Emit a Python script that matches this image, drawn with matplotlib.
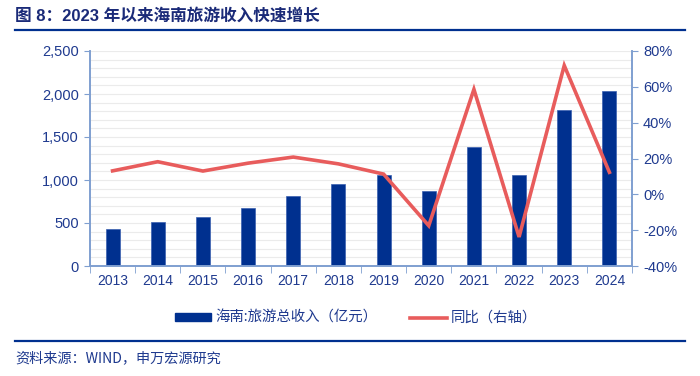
import matplotlib
matplotlib.use("Agg")
import matplotlib.pyplot as plt
from matplotlib.ticker import FuncFormatter, MultipleLocator
from matplotlib.patches import Rectangle
from matplotlib.lines import Line2D

plt.rcParams['font.family'] = ['Liberation Sans', 'Noto Sans CJK SC', 'DejaVu Sans']

years = ['2013', '2014', '2015', '2016', '2017', '2018', '2019', '2020', '2021', '2022', '2023', '2024']
revenue = [428.6, 506.5, 572.5, 672.1, 812.0, 950.2, 1057.8, 872.9, 1384.3, 1054.8, 1813.1, 2036.0]
yoy = [13.1, 18.2, 13.0, 17.4, 20.8, 17.0, 11.3, -17.5, 58.6, -23.8, 71.9, 12.3]

bar_label = '海南:旅游总收入（亿元）'
line_label = '同比（右轴）'
title = '图 8：2023 年以来海南旅游收入快速增长'
source = '资料来源：WIND，申万宏源研究'

bar_color = '#00308f'
line_color = '#e85c5c'
axis_color = '#7f9fd0'
text_color = '#1f3a8f'
title_color = '#1a2a78'

cjk = ['Noto Sans CJK SC', 'DejaVu Sans']
mixed = ['Liberation Sans', 'Noto Sans CJK SC', 'DejaVu Sans']

fig = plt.figure(figsize=(7.0, 3.76), dpi=100)
ax = fig.add_axes([90/700, 1-266/376, (632-90)/700, (266-51)/376])
ax2 = ax.twinx()

x = list(range(len(years)))
ax.set_axisbelow(True)
for v in range(100, 2600, 100):
    ax.axhline(v, color='#ebebeb', lw=0.8, zorder=0)
ax.bar(x, revenue, width=0.31, color=bar_color, edgecolor='#3a5fb0', linewidth=0.5, zorder=2)
ax.set_xlim(-0.5, len(years) - 0.5)
ax.set_ylim(0, 2500)
ax.yaxis.set_major_locator(MultipleLocator(500))
ax.yaxis.set_major_formatter(FuncFormatter(lambda v, p: f'{int(v):,}'))

ax2.plot(x, yoy, color=line_color, lw=2.6, zorder=3, solid_joinstyle='miter')
ax2.set_ylim(-40, 80)
ax2.yaxis.set_major_locator(MultipleLocator(20))
ax2.yaxis.set_major_formatter(FuncFormatter(lambda v, p: f'{int(round(v))}%'))
ax2.set_zorder(ax.get_zorder() + 1)
ax2.patch.set_visible(False)

ax.set_xticks(x)
ax.set_xticklabels(years)
ax.set_xticks([i + 0.5 for i in range(-1, len(years))], minor=True)
ax.tick_params(axis='x', which='major', length=0, pad=6, labelsize=10, labelcolor=text_color)
ax.tick_params(axis='x', which='minor', length=5, color=axis_color, direction='out')
ax.tick_params(axis='y', length=4, color=axis_color, labelsize=10.5, labelcolor=text_color, pad=4)
ax2.tick_params(axis='y', length=4, color=axis_color, labelsize=10.5, labelcolor=text_color, pad=4)

for a in (ax, ax2):
    a.spines['top'].set_visible(False)
    for s in ['left', 'right', 'bottom']:
        a.spines[s].set_color(axis_color)
        a.spines[s].set_linewidth(1.2)

# Title
fig.text(15/700, 1-16/376, title, fontsize=12, fontweight='bold', color=title_color,
         va='center', ha='left', family=mixed)
fig.add_artist(Line2D([15/700, 685/700], [1-30/376, 1-30/376], color='#00308f', lw=1.6))

# Legend
handles = [Rectangle((0, 0), 1, 1, color=bar_color),
           Line2D([0], [0], color=line_color, lw=2.6)]
leg = fig.legend(handles, [bar_label, line_label], loc='center', bbox_to_anchor=(356/700, 1-318/376),
                 ncol=2, frameon=False, handlelength=2.5, handleheight=0.45,
                 columnspacing=2.3, handletextpad=0.3, prop={'family': cjk, 'size': 10.4})
for t in leg.get_texts():
    t.set_color(text_color)

# Source
fig.add_artist(Line2D([15/700, 685/700], [1-341/376, 1-341/376], color='#00308f', lw=1.6))
fig.text(15/700, 1-358/376, source, fontsize=10.2, color=text_color, va='center', ha='left', family=cjk)

fig.savefig('out.png', dpi=100)
